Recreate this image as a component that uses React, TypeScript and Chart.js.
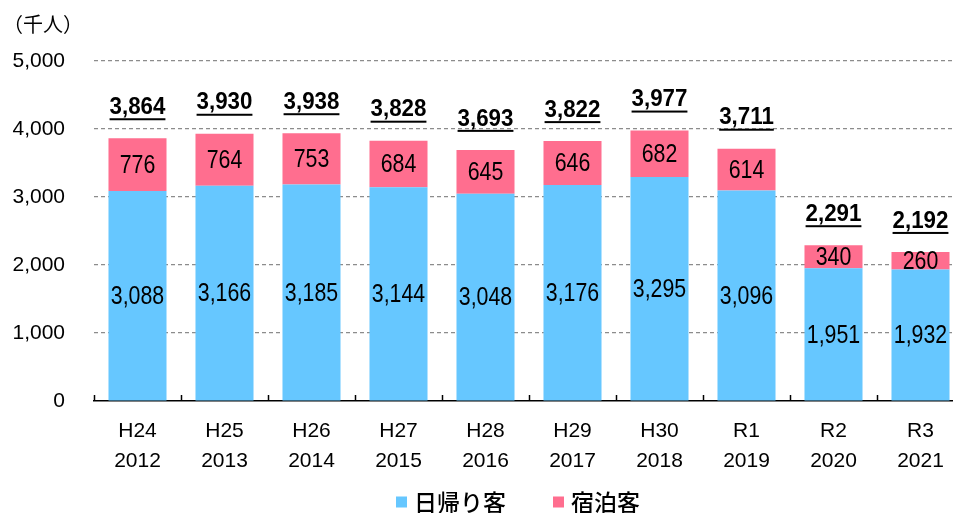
import { useEffect, useRef } from 'react';
import { Chart, registerables } from 'chart.js';

Chart.register(...registerables);

const categories: string[][] = [
  ['H24', '2012'], ['H25', '2013'], ['H26', '2014'], ['H27', '2015'], ['H28', '2016'],
  ['H29', '2017'], ['H30', '2018'], ['R1', '2019'], ['R2', '2020'], ['R3', '2021'],
];
const dayTrip = [3088, 3166, 3185, 3144, 3048, 3176, 3295, 3096, 1951, 1932];
const overnight = [776, 764, 753, 684, 645, 646, 682, 614, 340, 260];
const totals = [3864, 3930, 3938, 3828, 3693, 3822, 3977, 3711, 2291, 2192];
const yTicks = [0, 1000, 2000, 3000, 4000, 5000];
const seriesNames = ['日帰り客', '宿泊客'];
const seriesColors = ['rgb(102,199,255)', 'rgb(255,110,143)'];
const unitLabel = '（千人）';

const fmt = (v: number) => v.toLocaleString('en-US');
const SANS = '"Liberation Sans", Arial, sans-serif';
const CJK = '"Noto Sans CJK JP", "Noto Sans", sans-serif';

function narrowText(ctx: CanvasRenderingContext2D, t: string, x: number, y: number, sq: number) {
  ctx.save();
  ctx.translate(x, y);
  ctx.scale(sq, 1);
  ctx.fillText(t, 0, 0);
  ctx.restore();
}

const drawPlugin = {
  id: 'customDraw',
  afterDatasetsDraw(chart: any) {
    const ctx = chart.ctx as CanvasRenderingContext2D;
    ctx.save();
    ctx.textAlign = 'center';
    ctx.textBaseline = 'middle';
    ctx.fillStyle = '#000';
    ctx.font = `26px ${SANS}`;
    chart.data.datasets.forEach((ds: any, di: number) => {
      const meta = chart.getDatasetMeta(di);
      meta.data.forEach((el: any, i: number) => {
        const { x, y, base } = el.getProps(['x', 'y', 'base'], true);
        narrowText(ctx, fmt(ds.data[i]), x, (y + base) / 2 + 1, 0.82);
      });
    });
    const lastMeta = chart.getDatasetMeta(chart.data.datasets.length - 1);
    ctx.font = `bold 24px ${SANS}`;
    const sqT = 0.93;
    lastMeta.data.forEach((el: any, i: number) => {
      const t = fmt(totals[i]);
      const ty = el.y - 31;
      narrowText(ctx, t, el.x, ty, sqT);
      const w = ctx.measureText(t).width * sqT;
      ctx.fillRect(el.x - w / 2, ty + 11, w, 2);
    });
    // category boundary tick marks (inside, upward)
    const xs = chart.scales.x;
    const area = chart.chartArea;
    ctx.strokeStyle = '#000';
    ctx.lineWidth = 1.5;
    for (let i = 0; i <= categories.length; i++) {
      const px = Math.round(xs.getPixelForValue(i - 0.5)) + 0.5;
      ctx.beginPath();
      ctx.moveTo(px, area.bottom);
      ctx.lineTo(px, area.bottom - 6);
      ctx.stroke();
    }
    ctx.restore();
  },
  afterDraw(chart: any) {
    const ctx = chart.ctx as CanvasRenderingContext2D;
    ctx.save();
    ctx.fillStyle = '#000';
    ctx.textAlign = 'left';
    ctx.textBaseline = 'middle';
    ctx.font = `20px ${CJK}`;
    ctx.fillText(unitLabel, 3, 24);
    // legend
    ctx.font = `500 23px ${CJK}`;
    const box = 11, gap = 7, between = 47;
    const widths = seriesNames.map((n) => ctx.measureText(n).width);
    let total = 0;
    widths.forEach((w, i) => { total += box + gap + w + (i > 0 ? between : 0); });
    let x = chart.width / 2 - total / 2;
    const cy = 502;
    seriesNames.forEach((n, i) => {
      ctx.fillStyle = seriesColors[i];
      ctx.fillRect(x, cy - box / 2, box, box);
      ctx.fillStyle = '#000';
      ctx.fillText(n, x + box + gap, cy);
      x += box + gap + widths[i] + between;
    });
    ctx.restore();
  },
};

export default function App() {
  const ref = useRef<HTMLCanvasElement | null>(null);
  useEffect(() => {
    document.body.style.margin = '0';
    if (!ref.current) return;
    const chart = new Chart(ref.current, {
      type: 'bar',
      data: {
        labels: categories,
        datasets: [
          { label: seriesNames[0], data: dayTrip, backgroundColor: seriesColors[0], barPercentage: 0.667, categoryPercentage: 1 },
          { label: seriesNames[1], data: overnight, backgroundColor: seriesColors[1], barPercentage: 0.667, categoryPercentage: 1 },
        ],
      },
      options: {
        animation: false,
        responsive: true,
        maintainAspectRatio: false,
        layout: { padding: { left: 0, right: 72, top: 61, bottom: 40 } },
        plugins: { legend: { display: false }, tooltip: { enabled: false } },
        scales: {
          x: {
            stacked: true,
            grid: { display: false, drawTicks: false },
            border: { display: true, color: '#000', width: 1.5 },
            ticks: { color: '#000', padding: 15, font: { family: SANS, size: 21, lineHeight: 1.45 } },
            afterFit: (s: any) => { s.height = 72; },
          },
          y: {
            stacked: true,
            min: yTicks[0],
            max: yTicks[yTicks.length - 1],
            afterBuildTicks: (s: any) => { s.ticks = yTicks.map((v) => ({ value: v })); },
            grid: {
              drawTicks: false,
              color: (c: any) => (c.tick && c.tick.value === 0 ? 'rgba(0,0,0,0)' : '#8c8c8c'),
              lineWidth: 1.2,
            },
            border: { display: false, dash: [4, 3] },
            ticks: {
              color: '#000',
              padding: 29,
              font: { family: SANS, size: 21 },
              callback: (v: any) => fmt(Number(v)),
            },
            afterFit: (s: any) => { s.width = 94; },
          },
        },
      },
      plugins: [drawPlugin],
    });
    return () => chart.destroy();
  }, []);
  return (
    <div style={{ position: 'fixed', left: 0, top: 0, width: 953, height: 513, overflow: 'hidden', background: '#fff' }}>
      <div style={{ position: 'relative', width: 1036, height: 513 }}>
        <canvas ref={ref} />
      </div>
    </div>
  );
}
